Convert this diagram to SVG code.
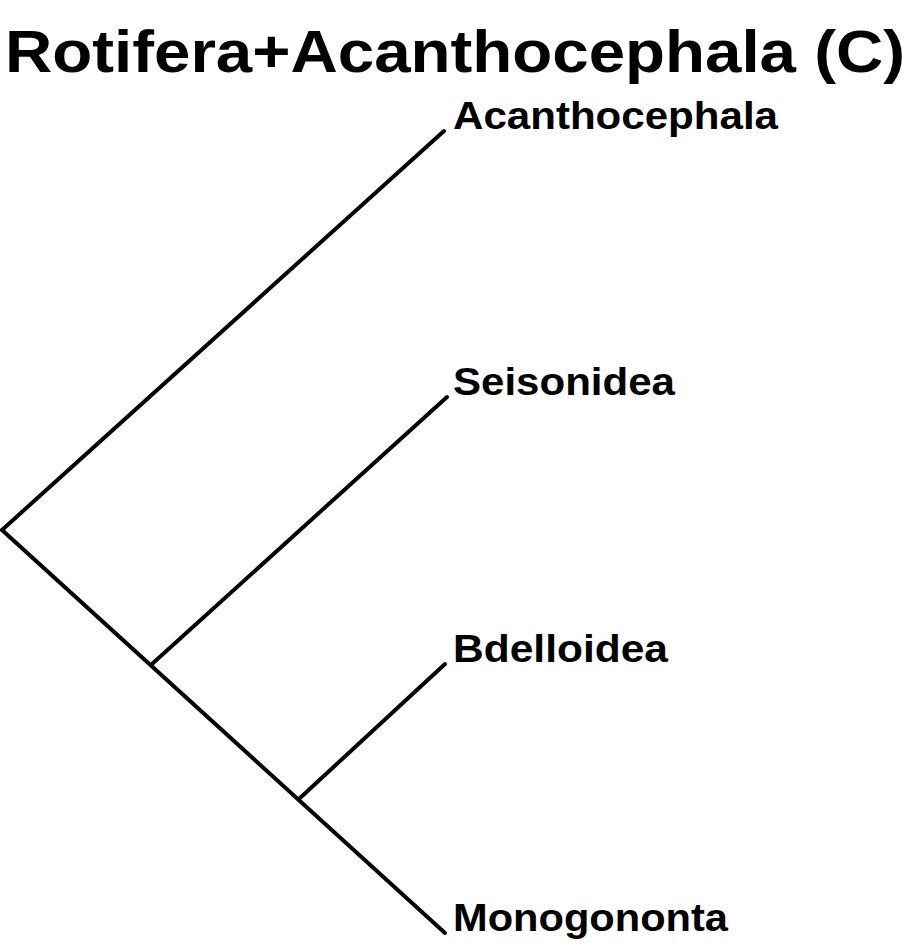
<svg xmlns="http://www.w3.org/2000/svg" width="914" height="944" viewBox="0 0 914 944">
<style>
.edge{stroke:#000;stroke-width:4;stroke-linecap:round;fill:none}
.lbl{font-family:"Liberation Sans",Arial,sans-serif;font-weight:bold;font-size:39px;fill:#000}
.title{font-family:"Liberation Sans",Arial,sans-serif;font-weight:bold;font-size:60px;fill:#000}
</style>
<rect width="914" height="944" fill="#fff"/>
<text id="title" class="title" x="5" y="72" textLength="900" lengthAdjust="spacingAndGlyphs">Rotifera+Acanthocephala (C)</text>
<g id="connectors">
<line class="edge" x1="2" y1="530" x2="444" y2="131"/>
<line class="edge" x1="2" y1="530" x2="445" y2="933"/>
<line class="edge" x1="152" y1="664" x2="447" y2="397"/>
<line class="edge" x1="300" y1="798" x2="445" y2="664"/>
</g>
<g id="n-acanthocephala"><text class="lbl" x="453" y="129" textLength="325" lengthAdjust="spacingAndGlyphs">Acanthocephala</text></g>
<g id="n-seisonidea"><text class="lbl" x="453" y="395" textLength="222" lengthAdjust="spacingAndGlyphs">Seisonidea</text></g>
<g id="n-bdelloidea"><text class="lbl" x="453" y="662" textLength="215" lengthAdjust="spacingAndGlyphs">Bdelloidea</text></g>
<g id="n-monogononta"><text class="lbl" x="453" y="931" textLength="275" lengthAdjust="spacingAndGlyphs">Monogononta</text></g>
</svg>
